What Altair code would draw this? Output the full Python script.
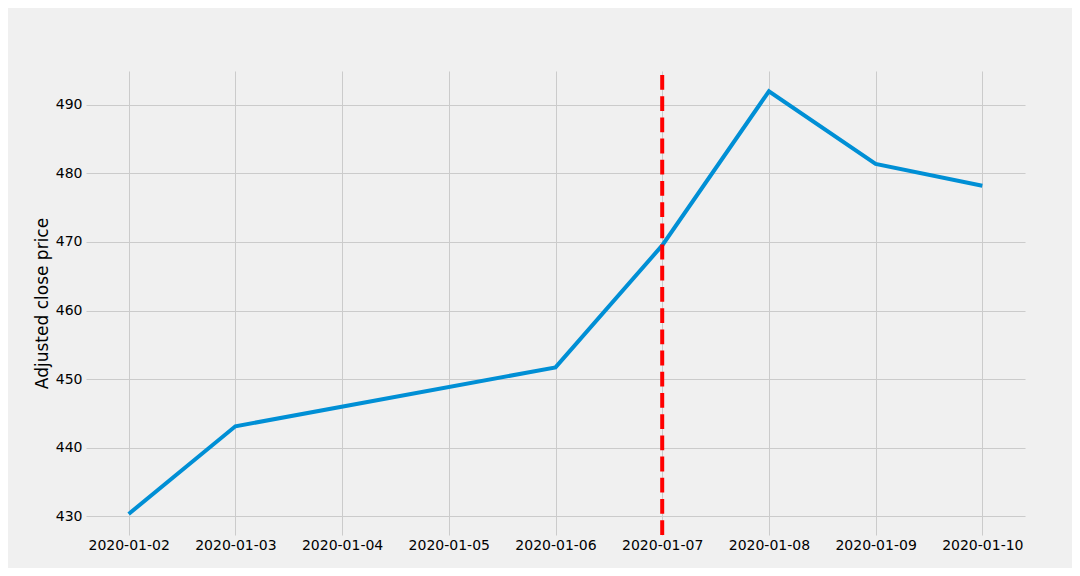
import altair as alt
import pandas as pd

dates = ["2020-01-02", "2020-01-03", "2020-01-06", "2020-01-07",
         "2020-01-08", "2020-01-09", "2020-01-10"]
prices = [430.3, 443.1, 451.7, 469.5, 492.0, 481.4, 478.2]
tick_dates = ["2020-01-02", "2020-01-03", "2020-01-04", "2020-01-05", "2020-01-06",
              "2020-01-07", "2020-01-08", "2020-01-09", "2020-01-10"]
marker_date = "2020-01-07"

y_min, y_max = 427.23, 494.96

df = pd.DataFrame({"date": dates, "price": prices})
mk = pd.DataFrame({"date": [marker_date], "lo": [y_min], "hi": [y_max]})


def dt(s):
    y, m, d = (int(v) for v in s.split("-"))
    return alt.DateTime(year=y, month=m, date=d, utc=True)


x_scale = alt.Scale(type="utc",
                    domain=[alt.DateTime(year=2020, month=1, date=1, hours=14, minutes=24, utc=True),
                            alt.DateTime(year=2020, month=1, date=10, hours=9, minutes=36, utc=True)])
y_scale = alt.Scale(domain=[y_min, y_max], zero=False, nice=False)

x_axis = alt.Axis(values=[dt(s) for s in tick_dates],
                  labelExpr="utcFormat(datum.value, '%Y-%m-%d')",
                  title=None, labelPadding=3, tickSize=0, labelFontSize=14,
                  labelColor="#000000", domain=False, gridColor="#cbcbcb", labelFlush=False)
y_axis = alt.Axis(values=[430, 440, 450, 460, 470, 480, 490], title="Adjusted close price",
                  titleFontSize=17, titleFontWeight="normal", titleColor="#000000",
                  titlePadding=4, labelPadding=4, tickSize=0, labelFontSize=14,
                  labelColor="#000000", domain=False, gridColor="#cbcbcb")

line = alt.Chart(df).mark_line(color="#008fd5", strokeWidth=4, clip=True).encode(
    x=alt.X("date:T", scale=x_scale, axis=x_axis),
    y=alt.Y("price:Q", scale=y_scale, axis=y_axis),
)

vline = alt.Chart(mk).mark_rule(color="#ff0000", strokeWidth=4,
                                strokeDash=[14.8, 6.4]).encode(
    x=alt.X("date:T", scale=x_scale, axis=x_axis),
    y=alt.Y("lo:Q", scale=y_scale, axis=y_axis),
    y2="hi:Q",
)

chart = alt.layer(line, vline).properties(
    width=939, height=464,
    background="#f0f0f0",
    autosize=alt.AutoSizeParams(type="none"),
    padding={"left": 78, "top": 63, "right": 47, "bottom": 33},
).configure_view(stroke=None, fill="#f0f0f0").configure_axis(
    labelFont="DejaVu Sans", titleFont="DejaVu Sans", gridWidth=1
)

chart.save("out.html", embed_options={"renderer": "svg", "actions": False})
